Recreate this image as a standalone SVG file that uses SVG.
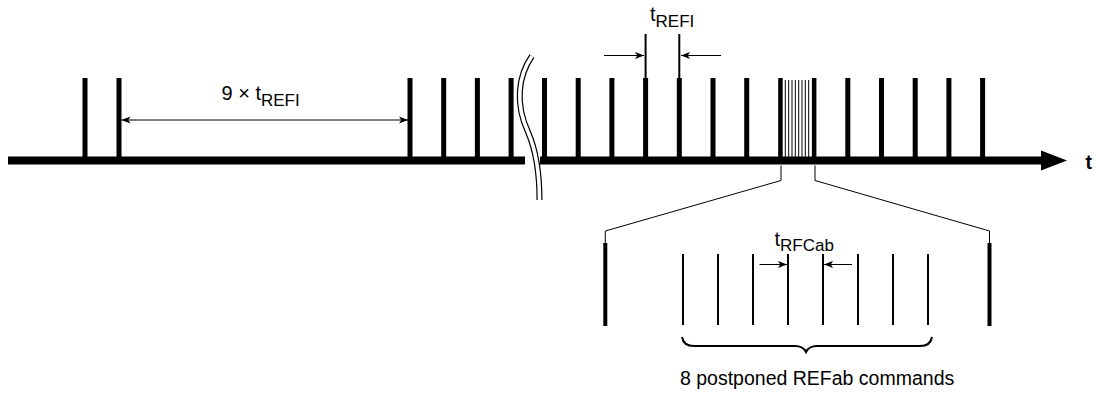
<svg xmlns="http://www.w3.org/2000/svg" width="1096" height="399" viewBox="0 0 1096 399">
<style>
.txt{font-family:"Liberation Sans",Arial,sans-serif;font-size:19.5px;fill:#000}
.lbl{font-size:20px}
.sub{font-size:17px}
.thick{fill:#000}
.thin{stroke:#000;stroke-width:2;fill:none}
.hair{stroke:#000;stroke-width:1;fill:none}
.conn{stroke:#000;stroke-width:1;fill:none}
</style>
<defs>
<marker id="ah" viewBox="0 0 10 8" refX="10" refY="4" markerWidth="9" markerHeight="8" orient="auto-start-reverse" markerUnits="userSpaceOnUse">
<path d="M0 0 L10 4 L0 8 L2.5 4 Z" fill="#000"/>
</marker>
</defs>
<rect width="1096" height="399" fill="#fff"/>

<g id="axis">
<rect x="8" y="156.5" width="517" height="8" class="thick"/>
<rect x="540" y="156.5" width="503" height="8" class="thick"/>
<polygon points="1041,150.5 1067,160.5 1041,170.5" class="thick"/>
<text x="1085.5" y="169" class="txt" font-weight="bold">t</text>
</g>

<g id="break">
<path d="M532 56 C518 76 515 104 528 132 C535.8 150 539.5 176 539.5 200" stroke="#000" stroke-width="6" fill="none"/>
<path d="M532 56 C518 76 515 104 528 132 C535.8 150 539.5 176 539.5 200" stroke="#fff" stroke-width="3.6" fill="none"/>
</g>

<g id="pulses">
<rect x="82.5" y="78" width="5" height="80" class="thick"/>
<rect x="116.5" y="78" width="5" height="80" class="thick"/>
<rect x="407.5" y="78" width="5" height="80" class="thick"/>
<rect x="441.2" y="78" width="5" height="80" class="thick"/>
<rect x="474.9" y="78" width="5" height="80" class="thick"/>
<rect x="508.6" y="78" width="5" height="80" class="thick"/>
<rect x="542" y="78" width="5" height="80" class="thick"/>
<rect x="575.7" y="78" width="5" height="80" class="thick"/>
<rect x="609.4" y="78" width="5" height="80" class="thick"/>
<rect x="643.1" y="78" width="5" height="80" class="thick"/>
<rect x="676.8" y="78" width="5" height="80" class="thick"/>
<rect x="710.5" y="78" width="5" height="80" class="thick"/>
<rect x="744.2" y="78" width="5" height="80" class="thick"/>
<rect x="778.2" y="78" width="4.5" height="80" class="thick"/>
<rect x="811.9" y="78" width="4.5" height="80" class="thick"/>
<rect x="845.3" y="78" width="5" height="80" class="thick"/>
<rect x="879" y="78" width="5" height="80" class="thick"/>
<rect x="912.7" y="78" width="5" height="80" class="thick"/>
<rect x="946.4" y="78" width="5" height="80" class="thick"/>
<rect x="980.1" y="78" width="5" height="80" class="thick"/>
</g>

<g id="cluster">
<path class="hair" d="M785.3 80V158M788.7 80V158M792 80V158M795.3 80V158M798.7 80V158M802 80V158M805.3 80V158M808.7 80V158"/>
</g>

<g id="trefi-marks">
<path class="thin" d="M645.6 34V79M679.3 34V79"/>
</g>

<g id="label-9trefi">
<text x="221.5" y="100" class="txt lbl">9 × t<tspan class="sub" dy="6">REFI</tspan></text>
</g>

<g id="label-trefi">
<text x="650" y="21" class="txt lbl">t<tspan class="sub" dy="6">REFI</tspan></text>
</g>

<g id="zoom-pulses">
<rect x="603.3" y="243" width="4" height="83" class="thick"/>
<rect x="987.5" y="243" width="4" height="83" class="thick"/>
<path class="thin" d="M683 254V325M718 254V325M753 254V325M788 254V325M823 254V325M858 254V325M893 254V325M928 254V325"/>
</g>

<g id="label-trfcab">
<text x="774.5" y="246" class="txt lbl">t<tspan class="sub" dy="5">RFCab</tspan></text>
</g>

<g id="brace">
<path d="M682 337 Q683.5 346 694 346 L795 346 Q803 346 806 352 Q809 346 817 346 L920 346 Q930.5 346 932 337" stroke="#000" stroke-width="2" fill="none"/>
</g>

<g id="label-postponed">
<text x="680" y="385" class="txt">8 postponed REFab commands</text>
</g>

<g id="connectors">
<path class="conn" d="M121.5 120H408" marker-start="url(#ah)" marker-end="url(#ah)"/>
<path class="conn" d="M604 55.5H644" marker-end="url(#ah)"/>
<path class="conn" d="M721 55.5H681" marker-end="url(#ah)"/>
<path class="conn" d="M759.5 264.5H787" marker-end="url(#ah)"/>
<path class="conn" d="M852 264.5H824" marker-end="url(#ah)"/>
<path class="conn" d="M781 165.5V180.5L605.3 231V243"/>
<path class="conn" d="M815 165.5V180.5L989.5 231V243"/>
</g>
</svg>
